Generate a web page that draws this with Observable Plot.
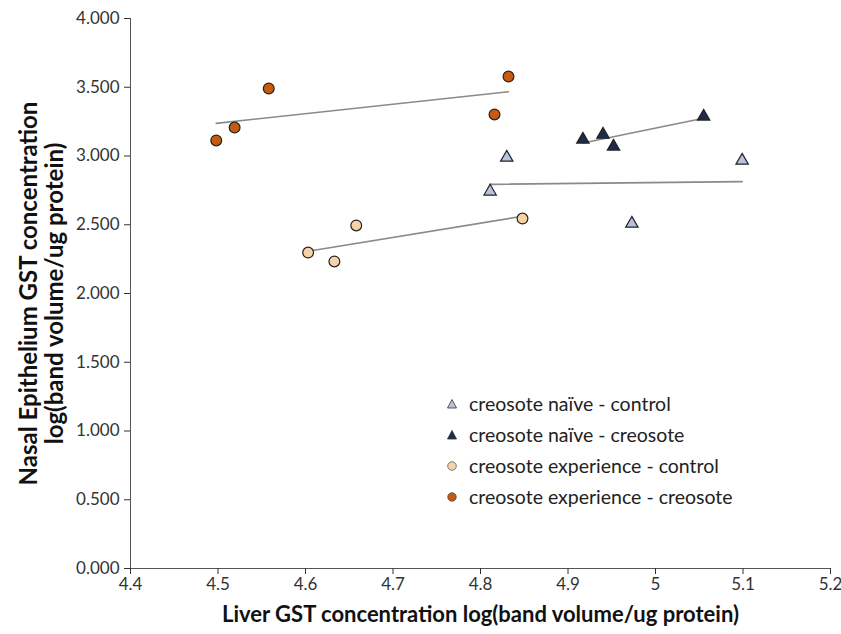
<!DOCTYPE html>
<html>
<head>
<meta charset="utf-8">
<script src="https://cdn.jsdelivr.net/npm/d3@7"></script>
<script src="https://cdn.jsdelivr.net/npm/@observablehq/plot@0.6"></script>
<style>
  html, body { margin: 0; padding: 0; background: #fff; }
  #wrap { position: relative; width: 841px; height: 634px; font-family: Lato, "Open Sans", sans-serif; }
  #legend { position: absolute; left: 443px; top: 388px; font-size: 19.5px; color: #222; }
  #legend .row { height: 31px; display: flex; align-items: center; }
  #legend svg { width: 18px; height: 14px; margin-right: 8px; }
</style>
</head>
<body>
<div id="wrap"><div id="legend"></div></div>
<script>
const groups = ["creosote naïve - control", "creosote naïve - creosote", "creosote experience - control", "creosote experience - creosote"];
const groupSymbols = ["triangle", "triangle", "circle", "circle"];
const groupFills = ["#b7c2de", "#1e2a4e", "#f6d3a6", "#c55a11"];

const naiveControlX = [4.811, 4.830, 4.973, 5.099];
const naiveControlY = [2.742, 2.989, 2.509, 2.967];
const naiveCreosoteX = [4.917, 4.940, 4.952, 5.055];
const naiveCreosoteY = [3.120, 3.156, 3.069, 3.287];
const expControlX = [4.603, 4.633, 4.658, 4.848];
const expControlY = [2.298, 2.233, 2.495, 2.545];
const expCreosoteX = [4.498, 4.519, 4.558, 4.816, 4.832];
const expCreosoteY = [3.113, 3.207, 3.491, 3.302, 3.578];

const xTicks = [4.4, 4.5, 4.6, 4.7, 4.8, 4.9, 5.0, 5.1, 5.2];
const yTicks = [0, 0.5, 1.0, 1.5, 2.0, 2.5, 3.0, 3.5, 4.0];
const xTitle = "Liver GST concentration log(band volume/ug protein)";
const yTitle = "Nasal Epithelium GST concentration\nlog(band volume/ug protein)";

const seriesX = [naiveControlX, naiveCreosoteX, expControlX, expCreosoteX];
const seriesY = [naiveControlY, naiveCreosoteY, expControlY, expCreosoteY];
const series = groups.map((g, i) => seriesX[i].map((x, j) => ({group: g, x, y: seriesY[i][j], gi: i})));

const font = "Lato, 'Open Sans', sans-serif";
const symbolR = [4.6, 4.6, 5.4, 5.4];

const marks = [
  Plot.ruleX([4.4], {stroke: "#555", strokeWidth: 1}),
  Plot.ruleY([0], {stroke: "#555", strokeWidth: 1}),
  Plot.axisX({ticks: xTicks, tickFormat: d => String(+d.toFixed(1)), tickSize: 6, tickPadding: 3, fontSize: 17, color: "#333", label: null}),
  Plot.axisY({ticks: yTicks, tickFormat: d3.format(".3f"), tickSize: 6, tickPadding: 5, fontSize: 17, color: "#333", label: null}),
  ...series.map(d => Plot.linearRegressionY(d, {x: "x", y: "y", ci: 0, stroke: "#8a8a8a", strokeWidth: 1.6})),
  ...series.map((d, i) => Plot.dot(d, {x: "x", y: "y", symbol: groupSymbols[i], fill: groupFills[i], stroke: "#222", strokeWidth: 1.2, r: symbolR[i]})),
  Plot.text([xTitle], {frameAnchor: "bottom", dy: 53, fontSize: 22, fontWeight: "bold", fill: "#111"}),
  Plot.text([yTitle], {frameAnchor: "left", textAnchor: "middle", dx: -89, rotate: -90, fontSize: 24, fontWeight: "bold", fill: "#111", lineHeight: 1.1})
];

const chart = Plot.plot({
  width: 841,
  height: 634,
  marginLeft: 130,
  marginRight: 11,
  marginTop: 18,
  marginBottom: 66,
  style: {fontFamily: font, background: "#fff", overflow: "visible"},
  x: {domain: [4.4, 5.2]},
  y: {domain: [0, 4]},
  marks
});
document.getElementById("wrap").prepend(chart);

const legend = document.getElementById("legend");
groups.forEach((g, i) => {
  const row = document.createElement("div");
  row.className = "row";
  const shape = groupSymbols[i] === "triangle"
    ? `<polygon points="9,2.5 13.5,11 4.5,11" fill="${groupFills[i]}" stroke="#333" stroke-width="0.8"/>`
    : `<circle cx="9" cy="7" r="4.3" fill="${groupFills[i]}" stroke="#333" stroke-width="0.6"/>`;
  row.innerHTML = `<svg viewBox="0 0 18 14">${shape}</svg><span>${g}</span>`;
  legend.appendChild(row);
});
</script>
</body>
</html>
